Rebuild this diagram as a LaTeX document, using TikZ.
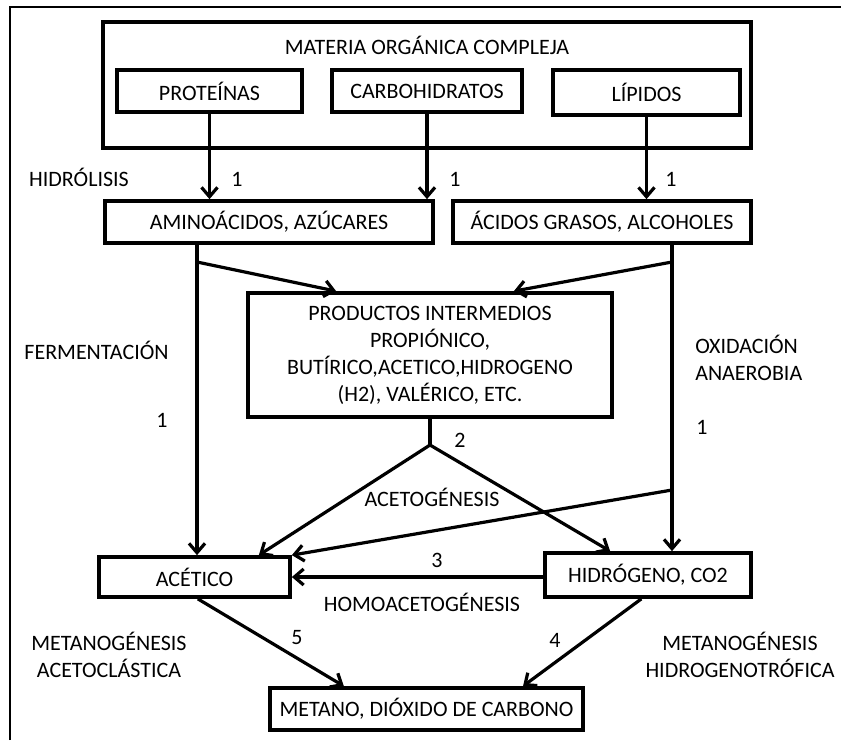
\documentclass[tikz,border=0pt]{standalone}
\usepackage{fontspec}
\setmainfont{Carlito}
\usetikzlibrary{arrows.meta}

\begin{document}
\begin{tikzpicture}[x=0.75pt,y=-0.75pt,
	every node/.style={font=\fontsize{16.5}{20.25}\selectfont,inner sep=0pt,align=center},
	caja/.style={draw,line width=2.8pt,minimum height=31.5pt},
	linea/.style={line width=2.4pt},
	flecha/.style={line width=2.4pt,-{Straight Barb[length=7pt,width=12pt,line width=2.4pt]}}]
		\useasboundingbox (0,0) rectangle (841,740);
		\draw[line width=1.5pt] (10,740)--(10,7)--(841,7);
		
		% cajas
		\node[caja,minimum width=486pt,minimum height=94.5pt] (materia) at (427,85) {};
		\node (titulo) at (427,45) {MATERIA ORGÁNICA COMPLEJA};
		\node[caja,minimum width=138.75pt] (prot) at (209.5,91) {PROTEÍNAS};
		\node[caja,minimum width=142.5pt] (carb) at (427,91) {CARBOHIDRATOS};
		\node[caja,minimum width=140.25pt,minimum height=33.75pt] (lip) at (646.5,92.5) {LÍPIDOS};
		\node[caja,minimum width=246pt] (amino) at (269,222) {AMINOÁCIDOS, AZÚCARES};
		\node[caja,minimum width=223.5pt] (acidos) at (602,222) {ÁCIDOS GRASOS, ALCOHOLES};
		\node[caja,minimum width=273pt,minimum height=93pt] (prod) at (430,355)
			{PRODUCTOS INTERMEDIOS\\PROPIÓNICO,\\BUTÍRICO,ACETICO,HIDROGENO\\(H2), VALÉRICO, ETC.};
		\node[caja,minimum width=143.25pt,minimum height=30pt] (acetico) at (194.5,577) {ACÉTICO};
		\node[caja,minimum width=154.5pt,minimum height=33pt] (hidro) at (648,575) {HIDRÓGENO, CO2};
		\node[caja,minimum width=234.75pt] (metano) at (426.5,709) {METANO, DIÓXIDO DE CARBONO};
		
		% hidrolisis
		\draw[flecha] (prot.south)--(prot.south |- amino.north);
		\draw[flecha] (carb.south)--(carb.south |- amino.north);
		\draw[flecha] (lip.south)--(lip.south |- acidos.north);
		\node (n1a) at (237,179) {1};
		\node (n1b) at (455,179) {1};
		\node (n1c) at (671,179) {1};
		\node (hidrolisis) at (79,177) {HIDRÓLISIS};
		
		% fermentacion y oxidacion
		\coordinate (jizq) at (197,262);
		\coordinate (jder) at (672,262);
		\coordinate (jcruce) at (672,490);
		\draw[flecha] (amino.south -| jizq)--(acetico.north -| jizq);
		\draw[flecha] (jizq)--([xshift=67.5pt]prod.north west);
		\draw[flecha] (acidos.south -| jder)--(hidro.north -| jder);
		\draw[flecha] (jder)--([xshift=-75pt]prod.north east);
		\draw[flecha] (jcruce)--(acetico.north east);
		\node (ferm) at (96.5,350) {FERMENTACIÓN};
		\node (n1d) at (162,420) {1};
		\node[anchor=west,align=left] (oxid) at (695,358) {OXIDACIÓN\\ANAEROBIA};
		\node (n1e) at (702,427) {1};
		
		% acetogenesis
		\coordinate (bif) at (430,445);
		\draw[linea] (prod.south)--(bif);
		\draw[flecha] (bif)--([xshift=-24.75pt]acetico.north east);
		\draw[flecha] (bif)--([xshift=50.25pt]hidro.north west);
		\node (n2) at (460,440) {2};
		\node (acetog) at (432,497) {ACETOGÉNESIS};
		
		% homoacetogenesis
		\draw[flecha] (hidro.west |- acetico.east)--(acetico.east);
		\node (n3) at (437,560) {3};
		\node (homo) at (422,602) {HOMOACETOGÉNESIS};
		
		% metanogenesis
		\draw[flecha] ([xshift=2.5pt]acetico.south)--([xshift=-62pt]metano.north);
		\draw[flecha] ([xshift=-5pt]hidro.south)--([xshift=72.4pt]metano.north);
		\node (n5) at (297,638) {5};
		\node (n4) at (555,640) {4};
		\node (metacet) at (109,655) {METANOGÉNESIS\\ACETOCLÁSTICA};
		\node (methidro) at (740,655) {METANOGÉNESIS\\HIDROGENOTRÓFICA};
	\end{tikzpicture}
\end{document}
